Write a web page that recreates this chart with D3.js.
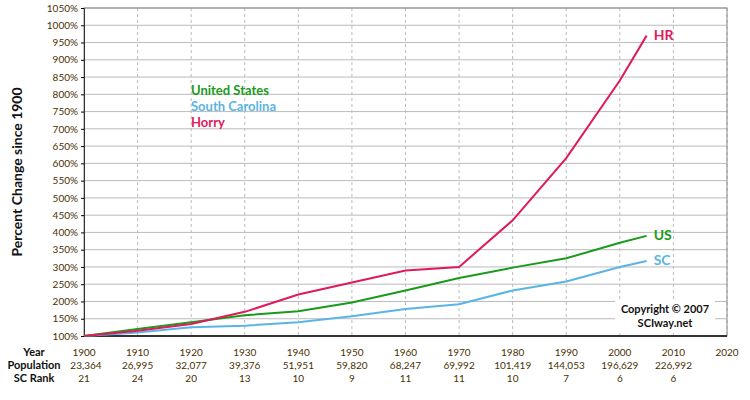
<!DOCTYPE html>
<html><head><meta charset="utf-8">
<script src="https://cdn.jsdelivr.net/npm/d3@7"></script>
<style>body{margin:0;background:#fff}text{font-family:Lato,"Open Sans",sans-serif}</style>
</head><body><svg id="c" width="750" height="400"></svg>
<script>
const years = [1900, 1910, 1920, 1930, 1940, 1950, 1960, 1970, 1980, 1990, 2000, 2005];
const horry = [100, 115, 135, 170, 220, 255, 290, 300, 435, 615, 840, 970];
const us = [100, 120, 140, 160, 172, 197, 232, 268, 298, 325, 370, 390];
const sc = [100, 110, 125, 130, 140, 157, 178, 192, 232, 258, 300, 317];
const tickYears = d3.range(1900, 2021, 10);
const population = ['23,364', '26,995', '32,077', '39,376', '51,951', '59,820', '68,247', '69,992', '101,419', '144,053', '196,629', '226,992'];
const scRank = ['21', '24', '20', '13', '10', '9', '11', '11', '10', '7', '6', '6'];

const svg = d3.select('#c');
const x = d3.scaleLinear().domain([1900, 2020]).range([84, 727]);
const y = d3.scaleLinear().domain([100, 1050]).range([336, 8]);

// grid
svg.append('g').selectAll('line').data(d3.range(150, 1051, 50)).join('line')
  .attr('x1', 84).attr('x2', 727).attr('y1', d => y(d)).attr('y2', d => y(d))
  .attr('stroke', '#bbb');
svg.append('g').selectAll('line').data(tickYears.slice(1)).join('line')
  .attr('x1', d => x(d)).attr('x2', d => x(d)).attr('y1', 8).attr('y2', 336)
  .attr('stroke', '#bbb').attr('stroke-dasharray', '3,3');
svg.append('rect').attr('x', 84).attr('y', 8).attr('width', 643).attr('height', 328)
  .attr('fill', 'none').attr('stroke', '#888');
svg.append('line').attr('x1', 84).attr('x2', 727).attr('y1', 336).attr('y2', 336)
  .attr('stroke', '#333').attr('stroke-width', 2);

// y axis
svg.append('g').attr('transform', 'translate(84,0)')
  .call(d3.axisLeft(y).tickValues(d3.range(100, 1051, 50)).tickSize(3).tickFormat(d => d + '%'))
  .call(g => g.select('.domain').attr('stroke', '#333'))
  .call(g => g.selectAll('text').attr('font-size', 10).attr('fill', '#4a3000').attr('font-family', 'Lato'));

svg.append('text').attr('transform', 'translate(22,172) rotate(-90)').attr('text-anchor', 'middle')
  .attr('font-size', 14).attr('font-weight', 'bold').attr('fill', '#111').text('Percent Change since 1900');

// bottom table
const rows = [[tickYears.map(String), 'Year', 356], [population, 'Population', 369], [scRank, 'SC Rank', 382]];
rows.forEach(([vals, label, yy]) => {
  svg.append('text').attr('x', 34).attr('y', yy).attr('text-anchor', 'middle')
    .attr('font-family', '"Liberation Sans Narrow", sans-serif')
    .attr('font-size', 11).attr('font-weight', 'bold').attr('fill', '#111').text(label);
  svg.append('g').selectAll('text').data(vals).join('text')
    .attr('x', (d, i) => x(tickYears[i]) + (label === 'Population' && i === 0 ? 2 : 0)).attr('y', yy).attr('text-anchor', 'middle')
    .attr('font-size', 10).attr('fill', '#4a3000').text(d => d);
});

// lines
const series = [[horry, '#e0195a', 'HR', 'Horry'], [us, '#1a9a1a', 'US', 'United States'], [sc, '#5ab4e6', 'SC', 'South Carolina']];
const line = d3.line().x((d, i) => x(years[i])).y(d => y(d));
series.slice().reverse().forEach(([vals, col]) => {
  svg.append('path').datum(vals).attr('d', line).attr('fill', 'none').attr('stroke', col).attr('stroke-width', 2);
});
series.forEach(([vals, col, ab]) => {
  svg.append('text').attr('x', x(2005) + 7).attr('y', y(vals[vals.length - 1]) + 4)
    .attr('font-size', 14).attr('font-weight', 'bold').attr('fill', col).text(ab);
});

// legend
[[us, '#1a9a1a', 'United States'], [sc, '#5ab4e6', 'South Carolina'], [horry, '#e0195a', 'Horry']].forEach(([v, col, name], i) => {
  svg.append('text').attr('x', 191).attr('y', 95 + i * 16).attr('font-size', 13).attr('font-weight', 'bold')
    .attr('fill', col).text(name);
});

// copyright
svg.append('rect').attr('x', 615).attr('y', 300).attr('width', 100).attr('height', 33).attr('fill', '#fff');
svg.append('text').attr('x', 665).attr('y', 313).attr('text-anchor', 'middle').attr('font-size', 11)
  .attr('font-weight', 'bold').attr('fill', '#111').text('Copyright © 2007');
svg.append('text').attr('x', 665).attr('y', 327).attr('text-anchor', 'middle').attr('font-size', 11)
  .attr('font-weight', 'bold').attr('fill', '#111').text('SCIway.net');
</script></body></html>
